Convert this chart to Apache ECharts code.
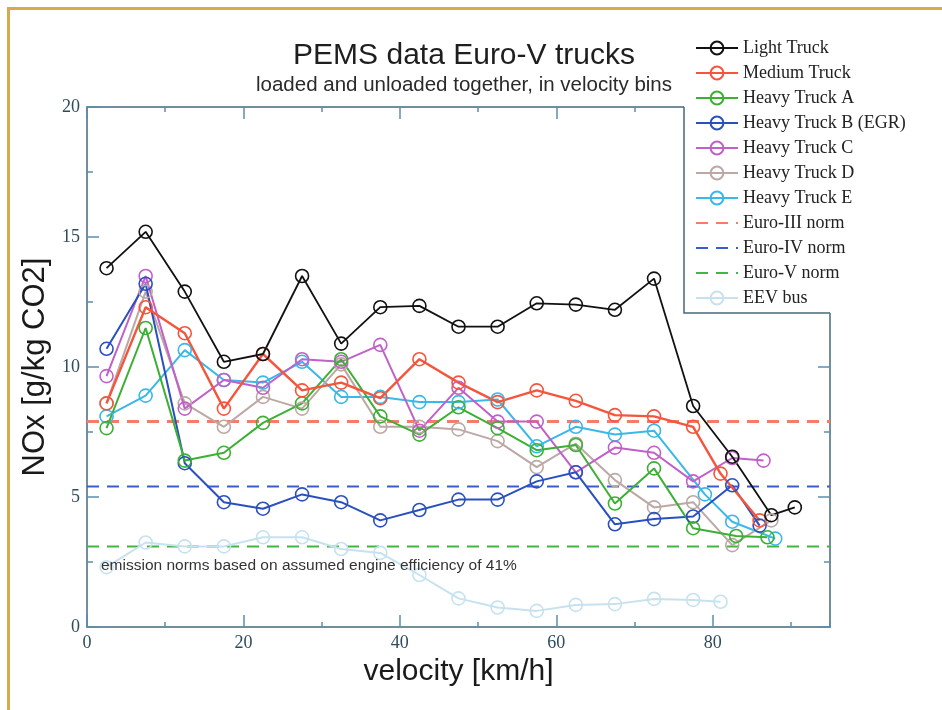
<!DOCTYPE html>
<html>
<head>
<meta charset="utf-8">
<script src="https://cdn.jsdelivr.net/npm/echarts@6/dist/echarts.min.js"></script>
<style>
  html, body { margin: 0; padding: 0; background: #fff; }
  #chart { width: 942px; height: 710px; }
</style>
</head>
<body>
<div id="chart"></div>
<script>
// velocity bin centres [km/h]
const velocity = [2.5, 7.5, 12.5, 17.5, 22.5, 27.5, 32.5, 37.5, 42.5, 47.5, 52.5, 57.5, 62.5, 67.5, 72.5, 77.5]

// NOx [g/kg CO2] per vehicle
const lightTruckV = velocity.concat([82.5, 87.5, 90.5])
const lightTruck = [13.8, 15.2, 12.9, 10.2, 10.5, 13.5, 10.9, 12.3, 12.35, 11.55, 11.55, 12.45, 12.4, 12.2, 13.4, 8.5, 6.55, 4.3, 4.6]

const mediumTruckV = velocity.concat([81, 86])
const mediumTruck = [8.6, 12.3, 11.3, 8.4, 10.5, 9.1, 9.4, 8.8, 10.3, 9.4, 8.65, 9.1, 8.7, 8.15, 8.1, 7.7, 5.9, 4.1]

const heavyAV = velocity.concat([83, 87])
const heavyA = [7.65, 11.5, 6.4, 6.7, 7.85, 8.6, 10.3, 8.1, 7.4, 8.45, 7.65, 6.8, 7.0, 4.75, 6.1, 3.8, 3.5, 3.45]

const heavyBV = velocity.concat([82.5, 86])
const heavyB = [10.7, 13.2, 6.3, 4.8, 4.55, 5.1, 4.8, 4.1, 4.5, 4.9, 4.9, 5.6, 5.95, 3.95, 4.15, 4.25, 5.45, 3.9]

const heavyCV = velocity.concat([82.5, 86.5])
const heavyC = [9.65, 13.5, 8.4, 9.5, 9.2, 10.3, 10.2, 10.85, 7.55, 9.2, 7.9, 7.9, 5.95, 6.9, 6.7, 5.6, 6.5, 6.4]

const heavyDV = velocity.concat([82.5, 87.5])
const heavyD = [8.6, 12.9, 8.6, 7.7, 8.85, 8.4, 10.1, 7.7, 7.7, 7.6, 7.15, 6.15, 7.05, 5.65, 4.6, 4.8, 3.15, 4.1]

const heavyEV = velocity.slice(0, 15).concat([79, 82.5, 88])
const heavyE = [8.1, 8.9, 10.65, 9.5, 9.4, 10.2, 8.85, 8.85, 8.65, 8.65, 8.75, 6.95, 7.7, 7.4, 7.55, 5.1, 4.05, 3.4]

const eevBusV = velocity.concat([81])
const eevBus = [2.3, 3.25, 3.1, 3.1, 3.45, 3.45, 3.0, 2.85, 2.0, 1.1, 0.75, 0.62, 0.85, 0.88, 1.08, 1.04, 0.97]

// emission norms (assumed engine efficiency 41%)
const normNames = ['Euro-III norm', 'Euro-IV norm', 'Euro-V norm']
const normLevels = [7.9, 5.4, 3.1]
const normRange = [0, 95]

const legendNames = ['Light Truck', 'Medium Truck', 'Heavy Truck A', 'Heavy Truck B (EGR)', 'Heavy Truck C',
  'Heavy Truck D', 'Heavy Truck E', 'Euro-III norm', 'Euro-IV norm', 'Euro-V norm', 'EEV bus']

const axisLineColor = '#46697a'
const tickColor = '#5b8db0'
const labelFont = { fontFamily: 'Liberation Serif', fontSize: 18, color: '#2e4c5c' }

function pairs(xs, ys) {
  return ys.map((y, i) => [xs[i], y])
}

function truckSeries(name, xs, ys, color, width) {
  return {
    name: name,
    type: 'line',
    data: pairs(xs, ys),
    symbol: 'circle',
    symbolSize: 13,
    lineStyle: { color: color, width: width || 2 },
    itemStyle: { color: 'rgba(255,255,255,0)', borderColor: color, borderWidth: 1.6 },
    z: 3
  }
}

function normSeries(i, color, width) {
  return {
    name: normNames[i],
    type: 'line',
    data: normRange.map(v => [v, normLevels[i]]),
    symbol: 'circle',
    showSymbol: false,
    lineStyle: { color: color, width: width, type: [12, 8] },
    // symbol hidden so the legend only shows the dashed line
    itemStyle: { color: color, opacity: 0 },
    z: 2
  }
}

function xAxisOf(position, interval, len, main) {
  return {
    type: 'value',
    position: position,
    min: 0,
    max: 95,
    interval: interval,
    axisLine: { show: main, onZero: false, lineStyle: { color: axisLineColor, width: 1.5 } },
    axisTick: { inside: true, length: len, lineStyle: { color: tickColor, width: 1.5 } },
    axisLabel: Object.assign({ show: main && position === 'bottom', showMaxLabel: false, margin: 7 }, labelFont),
    splitLine: { show: false }
  }
}

function yAxisOf(position) {
  return {
    type: 'value',
    position: position,
    min: 0,
    max: 20,
    interval: 5,
    axisLine: { show: true, onZero: false, lineStyle: { color: axisLineColor, width: 1.5 } },
    axisTick: { inside: true, length: 12, lineStyle: { color: tickColor, width: 1.5 } },
    minorTick: { show: true, splitNumber: 2, length: 6, lineStyle: { color: tickColor, width: 1.5 } },
    axisLabel: Object.assign({ show: position === 'left', margin: 7 }, labelFont),
    splitLine: { show: false },
    minorSplitLine: { show: false }
  }
}

const chart = echarts.init(document.getElementById('chart'))

const xMain = xAxisOf('bottom', 20, 12, true)
xMain.name = 'velocity [km/h]'
xMain.nameLocation = 'middle'
xMain.nameGap = 26
xMain.nameTextStyle = { fontFamily: 'Liberation Sans', fontSize: 30, color: '#1a1a1a' }

const yMain = yAxisOf('left')
yMain.name = 'NOx [g/kg CO2]'
yMain.nameLocation = 'middle'
yMain.nameGap = 34
yMain.nameTextStyle = { fontFamily: 'Liberation Sans', fontSize: 31, color: '#1a1a1a' }

const option = {
  animation: false,
  backgroundColor: '#fff',
  title: [
    {
      text: 'PEMS data Euro-V trucks',
      left: 459,
      top: 36,
      textAlign: 'center',
      textStyle: { fontFamily: 'Liberation Sans', fontSize: 30, fontWeight: 'normal', color: '#1e1e1e' }
    },
    {
      text: 'loaded and unloaded together, in velocity bins',
      left: 459,
      top: 70,
      textAlign: 'center',
      textStyle: { fontFamily: 'Liberation Sans', fontSize: 20.5, fontWeight: 'normal', color: '#2a2a2a' }
    }
  ],
  grid: { left: 87, right: 112, top: 107, bottom: 83 },
  legend: {
    orient: 'vertical',
    left: 684,
    top: 31,
    padding: [8, 10, 6, 11],
    itemWidth: 42,
    itemHeight: 16,
    itemGap: 7,
    backgroundColor: '#fff',
    selectedMode: false,
    textStyle: { fontFamily: 'Liberation Serif', fontSize: 18, color: '#222' },
    data: legendNames,
    z: 6
  },
  xAxis: [
    xMain,
    xAxisOf('bottom', 10, 5, false),
    xAxisOf('top', 20, 12, true),
    xAxisOf('top', 10, 5, false)
  ],
  yAxis: [yMain, yAxisOf('right')],
  graphic: [
    {
      type: 'rect',
      shape: { x: 8.5, y: 8.5, width: 1000, height: 1000 },
      style: { fill: 'none', stroke: '#d8ab4a', lineWidth: 3 },
      silent: true
    },
    {
      type: 'polyline',
      shape: { points: [[684, 107], [684, 313], [830, 313]] },
      style: { fill: 'none', stroke: axisLineColor, lineWidth: 1.5 },
      z: 100
    },
    {
      type: 'text',
      left: 101,
      top: 558,
      style: {
        text: 'emission norms based on assumed engine efficiency of 41%',
        fontFamily: 'Liberation Sans',
        fontSize: 15.5,
        fill: '#333'
      },
      z: 5
    }
  ],
  series: [
    truckSeries('EEV bus', eevBusV, eevBus, '#c6e2ef', 2),
    normSeries(0, '#f87a68', 3),
    normSeries(1, '#3a5cd0', 2),
    normSeries(2, '#40b840', 2),
    truckSeries('Heavy Truck E', heavyEV, heavyE, '#3ab8e8'),
    truckSeries('Heavy Truck D', heavyDV, heavyD, '#bca8a4'),
    truckSeries('Heavy Truck C', heavyCV, heavyC, '#c060c8'),
    truckSeries('Heavy Truck B (EGR)', heavyBV, heavyB, '#2a50c0'),
    truckSeries('Heavy Truck A', heavyAV, heavyA, '#3cb034'),
    truckSeries('Medium Truck', mediumTruckV, mediumTruck, '#f5553c', 2.4),
    truckSeries('Light Truck', lightTruckV, lightTruck, '#111111', 1.8)
  ]
}

chart.setOption(option)
</script>
</body>
</html>
